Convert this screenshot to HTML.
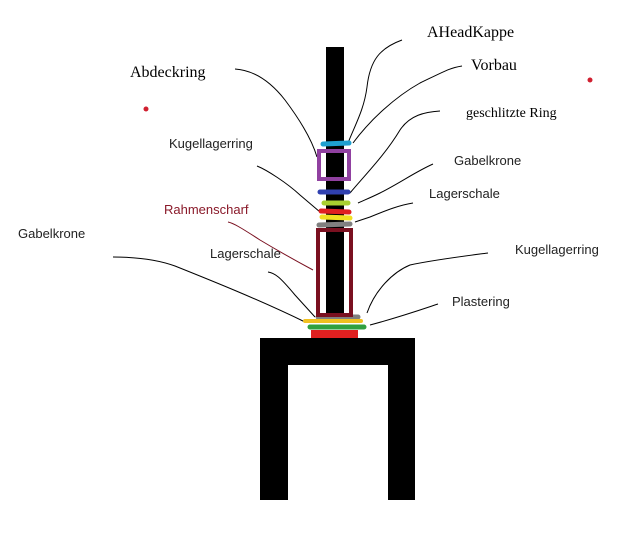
<!DOCTYPE html><html><head><style>
body{margin:0;background:#fff;}
.t{position:absolute;white-space:nowrap;line-height:1;}
.s{font-family:"Liberation Sans",sans-serif;font-size:13px;color:#222;}
.f{font-family:"Liberation Serif",serif;font-size:16px;color:#000;}
</style></head><body>
<div style="position:relative;width:625px;height:550px;overflow:hidden">
<svg width="625" height="550" style="position:absolute;left:0;top:0">
<g fill="none" stroke="#000" stroke-width="1">
<path d="M402,40 C380,48 370,60 367,87 C364,110 355,125 348,143"/>
<path d="M462,66 C450,68 447,70 420,83 C395,97 370,120 353,143"/>
<path d="M440,111 C425,112 410,115 400,130 C385,155 365,175 350,193"/>
<path d="M433,164 C415,172 400,183 380,193 C370,198 362,201 358,203"/>
<path d="M413,203 C400,205 387,210 370,217 L355,222"/>
<path d="M488,253 C465,256 433,260 410,265 C393,272 375,290 367,313"/>
<path d="M438,304 C420,310 400,317 370,325"/>
<path d="M235,69 C250,70 267,77 285,100 C300,120 312,140 317,157"/>
<path d="M257,166 C267,170 287,183 300,195 L320,212"/>
<path d="M268,272 C275,273 280,277 295,295 L315,317"/>
<path d="M113,257 C130,257 153,258 175,266 C210,280 260,300 305,322"/>
</g>
<path d="M228,222 C233,223 240,227 260,240 C280,252 300,263 313,270" fill="none" stroke="#7a1020" stroke-width="1"/>
<circle cx="146" cy="109" r="2.5" fill="#d02030"/>
<circle cx="590" cy="80" r="2.5" fill="#d02030"/>
<!-- table -->
<path d="M260,338 H415 V500 H388 V365 H288 V500 H260 Z" fill="#000"/>
<!-- rod -->
<rect x="326" y="47" width="18" height="273" fill="#000"/>
<!-- rings -->
<g stroke-linecap="round" stroke-width="5">
<line x1="323" y1="144" x2="349" y2="143" stroke="#1fa0d0"/>
<line x1="320" y1="192" x2="348" y2="192" stroke="#3040b0"/>
<line x1="324" y1="203" x2="348" y2="203" stroke="#a8d030"/>
<line x1="321" y1="211" x2="349" y2="212" stroke="#e02020"/>
<line x1="322" y1="217" x2="350" y2="218" stroke="#f0e020"/>
<line x1="319" y1="225" x2="350" y2="224" stroke="#808080"/>
<line x1="318" y1="317" x2="358" y2="317" stroke="#808080"/>
<line x1="305" y1="321" x2="361" y2="321" stroke="#f0c020" stroke-width="4"/>
<line x1="310" y1="327" x2="364" y2="327" stroke="#30a040"/>
</g>
<rect x="311" y="330" width="47" height="8" fill="#e02020"/>
<rect x="319" y="151" width="30" height="28" fill="none" stroke="#9040a0" stroke-width="4"/>
<rect x="318" y="230" width="33" height="85" fill="none" stroke="#7a1020" stroke-width="4"/>
<rect x="320" y="232" width="5" height="81" fill="#fff"/>
<rect x="345" y="232" width="4" height="81" fill="#fff"/>
</svg>
<div class="t f" style="left:427px;top:25px">AHeadKappe</div>
<div class="t f" style="left:471px;top:58px">Vorbau</div>
<div class="t f" style="left:130px;top:65px">Abdeckring</div>
<div class="t f" style="left:466px;top:107px;font-size:14px">geschlitzte Ring</div>
<div class="t s" style="left:169px;top:137px">Kugellagerring</div>
<div class="t s" style="left:454px;top:154px">Gabelkrone</div>
<div class="t s" style="left:429px;top:187px">Lagerschale</div>
<div class="t s" style="left:164px;top:203px;color:#8a1a2a">Rahmenscharf</div>
<div class="t s" style="left:18px;top:227px">Gabelkrone</div>
<div class="t s" style="left:210px;top:247px">Lagerschale</div>
<div class="t s" style="left:515px;top:243px">Kugellagerring</div>
<div class="t s" style="left:452px;top:295px">Plastering</div>
</div>
</body></html>
